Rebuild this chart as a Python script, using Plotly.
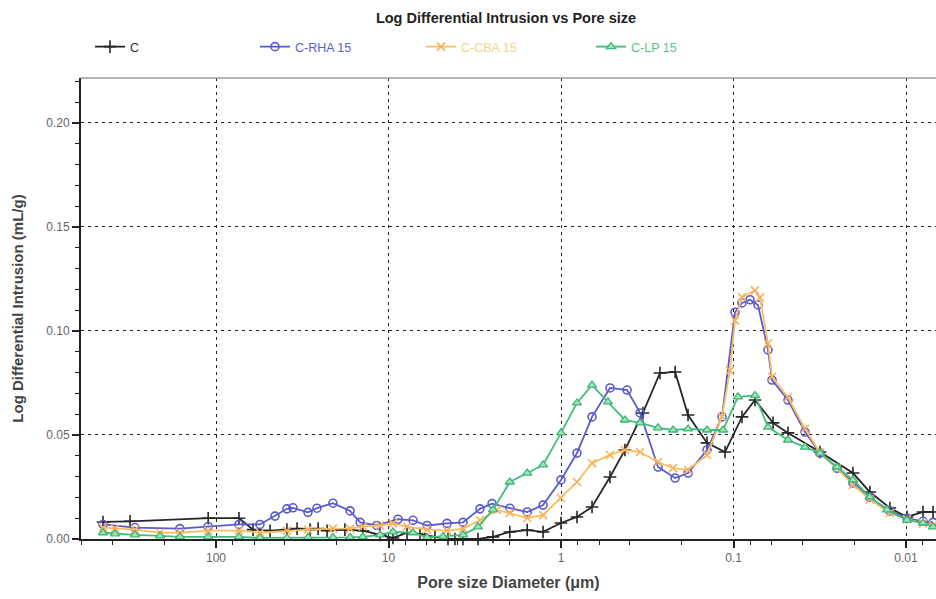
import plotly.graph_objects as go

# ---- data (pore diameter in µm, log differential intrusion in mL/g) ----
c_d = [452, 315, 111, 73.6, 61.0, 48.6, 38.8, 33.9, 28.5,
       25.6, 22.7, 17.9, 14.1, 11.2, 9.42, 7.81, 6.57, 5.38, 4.52, 4.12, 3.70, 3.03, 2.48,
       1.98, 1.57, 1.27, 1.00, 0.808, 0.661, 0.520, 0.426, 0.335, 0.267, 0.218, 0.1835,
       0.1424, 0.112, 0.0893, 0.0750, 0.059, 0.0483, 0.0315, 0.0203, 0.0162, 0.0124,
       0.00987, 0.00797, 0.00697]
c_v = [0.0082, 0.0085, 0.0100, 0.0100,
       0.0045, 0.0040, 0.0045, 0.0050, 0.0045, 0.0050, 0.0040, 0.0045, 0.0040, 0.0020,
       0.0005, 0.0030, 0.0025, 0.0010, 0.0000, 0.0000, 0.0000, 0.0000, 0.0010, 0.0034,
       0.0043, 0.0034, 0.0077, 0.0106, 0.0154, 0.0298, 0.0428, 0.0606, 0.0798, 0.0803,
       0.0596, 0.0462, 0.0418, 0.0587, 0.0668, 0.0558, 0.0510, 0.0418, 0.0317, 0.0226,
       0.0149, 0.0106, 0.0130, 0.0130]

rha_d = [452, 295, 162, 111, 73.6, 55.6, 45.5, 38.8, 35.8, 29.3, 26.0,
         21.0, 16.7, 14.6, 11.7, 8.81, 7.21, 5.98, 4.58, 3.70, 2.95, 2.51, 1.98, 1.57, 1.27,
         1.00, 0.808, 0.661, 0.520, 0.414, 0.348, 0.274, 0.218, 0.1835, 0.1424, 0.1166,
         0.098, 0.0893, 0.0802, 0.0721, 0.0631, 0.0598, 0.0483, 0.0385, 0.0315, 0.0251,
         0.0203, 0.0162, 0.0124, 0.00987, 0.00797, 0.00697]
rha_v = [0.0070, 0.0055, 0.0050, 0.0060, 0.0070, 0.0070,
         0.0110, 0.0145, 0.0150, 0.0128, 0.0148, 0.0172, 0.0135, 0.0080, 0.0065, 0.0095,
         0.0090, 0.0065, 0.0075, 0.0080, 0.0145, 0.0170, 0.0148, 0.0130, 0.0163, 0.0284,
         0.0413, 0.0587, 0.0726, 0.0716, 0.0606, 0.0346, 0.0293, 0.0317, 0.0428, 0.0587,
         0.1090, 0.1135, 0.1150, 0.1125, 0.0909, 0.0764, 0.0668, 0.0514, 0.0413, 0.0340,
         0.0270, 0.0200, 0.0135, 0.0100, 0.0085, 0.0080]

cba_d = [452, 385, 295, 211, 162, 111, 73.6, 55.6, 38.8, 29.3, 21.0, 16.7, 14.1, 11.2,
         9.42, 7.81, 5.98, 4.58, 3.70, 2.95, 2.35, 1.98, 1.57, 1.27, 1.00, 0.808, 0.661,
         0.520, 0.426, 0.348, 0.274, 0.224, 0.1835, 0.1424, 0.1166, 0.1048, 0.098, 0.0893,
         0.0750, 0.0702, 0.0631, 0.0598, 0.0483, 0.0385, 0.0315, 0.0251, 0.0203, 0.0162,
         0.0124, 0.00987, 0.00797, 0.00697]
cba_v = [0.0055, 0.0050, 0.0045, 0.0030, 0.0030, 0.0040, 0.0040, 0.0030, 0.0040, 0.0045,
         0.0050, 0.0050, 0.0060, 0.0065, 0.0075, 0.0060, 0.0045, 0.0040, 0.0050, 0.0090,
         0.0140, 0.0125, 0.0101, 0.0115, 0.0197, 0.0274, 0.0365, 0.0404, 0.0428, 0.0418,
         0.0370, 0.0341, 0.0332, 0.0404, 0.0587, 0.0810, 0.1050, 0.1163, 0.1195, 0.1160,
         0.0940, 0.0780, 0.0680, 0.0530, 0.0415, 0.0340, 0.0260, 0.0190, 0.0125, 0.0095,
         0.0075, 0.0065]

lp_d = [452, 385, 295, 211, 162, 111, 73.6, 55.6, 38.8, 29.3, 21.0, 16.7, 14.1, 11.2,
        9.42, 7.21, 5.98, 4.83, 3.70, 3.03, 2.48, 1.98, 1.57, 1.27, 1.00, 0.808, 0.661,
        0.534, 0.426, 0.348, 0.274, 0.224, 0.1835, 0.1424, 0.115, 0.0942, 0.0750, 0.0631,
        0.0483, 0.0385, 0.0315, 0.0251, 0.0203, 0.0162, 0.0129, 0.00987, 0.00797, 0.00697]
lp_v = [0.0030, 0.0025, 0.0020, 0.0015, 0.0010, 0.0010, 0.0010, 0.0005, 0.0005, 0.0008,
        0.0008, 0.0008, 0.0010, 0.0020, 0.0034, 0.0030, 0.0008, 0.0012, 0.0020, 0.0058,
        0.0140, 0.0274, 0.0317, 0.0356, 0.0510, 0.0654, 0.0740, 0.0659, 0.0572, 0.0558,
        0.0534, 0.0524, 0.0529, 0.0524, 0.0524, 0.0683, 0.0690, 0.0538, 0.0476, 0.0442,
        0.0413, 0.0346, 0.0284, 0.0202, 0.0140, 0.0091, 0.0077, 0.0058]

x_tick_vals = [100, 10, 1, 0.1, 0.01]
x_tick_text = ["100", "10", "1", "0.1", "0.01"]
x_minor_vals = [m * 10.0 ** k for k in range(-3, 3) for m in (2, 4, 6, 8)]
y_tick_vals = [0.00, 0.05, 0.10, 0.15, 0.20]

SANS = "Liberation Sans, Arial, sans-serif"

fig = go.Figure()
fig.add_trace(go.Scatter(
    x=c_d, y=c_v, mode="lines+markers", name='<span style="color:#333333">C</span>',
    line=dict(color="#262626", width=1.8),
    marker=dict(symbol="cross-thin", size=9, line=dict(color="#262626", width=1.6)),
    cliponaxis=False, legend="legend", showlegend=True))
fig.add_trace(go.Scatter(
    x=rha_d, y=rha_v, mode="lines+markers", name='<span style="color:#5c5cd0">C-RHA 15</span>',
    line=dict(color="#5a5ad0", width=1.8),
    marker=dict(symbol="circle-open", size=8, color="#5a5ad0", line=dict(width=1.6)),
    cliponaxis=False, legend="legend2", showlegend=True))
fig.add_trace(go.Scatter(
    x=cba_d, y=cba_v, mode="lines+markers", name='<span style="color:#f2d48a">C-CBA 15</span>',
    line=dict(color="#f7bf62", width=1.8),
    marker=dict(symbol="x-thin", size=8, line=dict(color="#f7b25a", width=1.6)),
    cliponaxis=False, legend="legend3", showlegend=True))
fig.add_trace(go.Scatter(
    x=lp_d, y=lp_v, mode="lines+markers", name='<span style="color:#5cc08c">C-LP 15</span>',
    line=dict(color="#3fbd7e", width=1.8),
    marker=dict(symbol="triangle-up", size=8, color="#a6e2b4", line=dict(color="#3cb878", width=1.3)),
    cliponaxis=False, legend="legend4", showlegend=True))

def leg(px):
    return dict(xref="container", yref="container", x=px / 936, y=1 - 47 / 599,
                xanchor="left", yanchor="middle", orientation="h",
                bgcolor="rgba(0,0,0,0)", borderwidth=0,
                font=dict(family=SANS, size=12.5))

fig.update_layout(
    width=936, height=599,
    showlegend=True,
    margin=dict(l=81, r=0, t=78, b=60),
    paper_bgcolor="white", plot_bgcolor="white",
    title=dict(text="Log Differential Intrusion vs Pore size", x=506 / 936, xanchor="center",
               y=1 - 18 / 599, yanchor="middle",
               font=dict(family=SANS, size=14.5, color="#222222", weight="bold")),
    legend=leg(90), legend2=leg(255), legend3=leg(421), legend4=leg(591),
    xaxis=dict(type="log", range=[2.7826, -2.1739],
               tickvals=x_tick_vals, ticktext=x_tick_text,
               ticks="outside", ticklen=7, tickwidth=1.5, tickcolor="#222",
               minor=dict(tickvals=x_minor_vals, ticks="outside", ticklen=4,
                          tickwidth=1.3, tickcolor="#222", showgrid=False),
               showline=True, linecolor="#222", linewidth=1.8,
               showgrid=True, gridcolor="#222", griddash="3px,4px", gridwidth=1.4,
               zeroline=False,
               tickfont=dict(family=SANS, size=12, color="#666"),
               title=dict(text="Pore size Diameter (μm)", standoff=13,
                          font=dict(family=SANS, size=16, color="#444", weight="bold"))),
    yaxis=dict(range=[0, 0.2216], tickvals=y_tick_vals, tickformat=".2f",
               ticks="outside", ticklen=7, tickwidth=1.5, tickcolor="#222",
               minor=dict(dtick=0.01, tick0=0, ticks="outside", ticklen=4,
                          tickwidth=1.3, tickcolor="#222", showgrid=False),
               showline=True, linecolor="#222", linewidth=1.8,
               showgrid=True, gridcolor="#222", griddash="3px,4px", gridwidth=1.4,
               zeroline=False,
               tickfont=dict(family=SANS, size=12, color="#666"),
               title=dict(text="Log Differential Intrusion (mL/g)", standoff=19,
                          font=dict(family=SANS, size=15, color="#444", weight="bold"))),
    shapes=[dict(type="line", xref="paper", yref="paper", x0=0, x1=1, y0=1, y1=1,
                 line=dict(color="#9a9a9a", width=1.5))],
)

fig.write_html("out.html")
